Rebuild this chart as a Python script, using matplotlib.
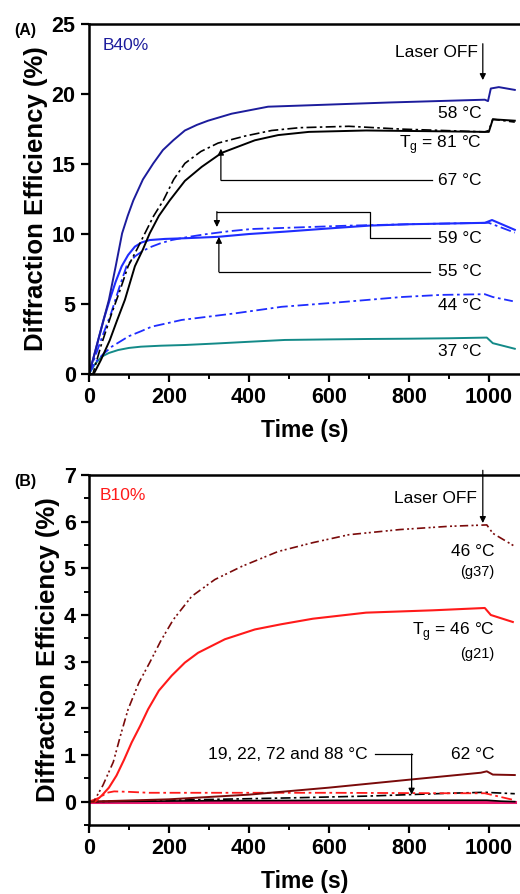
import matplotlib
matplotlib.use('Agg')
import matplotlib.pyplot as plt
from matplotlib.ticker import MultipleLocator

plt.rcParams['font.family'] = ['Liberation Sans', 'DejaVu Sans']
plt.rcParams['mathtext.fontset'] = 'custom'
plt.rcParams['mathtext.rm'] = 'Liberation Sans'

# ---- panel A : B40% ----
t_58 = [0, 10, 23, 37, 50, 67, 83, 97, 111, 135, 161, 185, 211, 240, 270, 298, 357, 448, 550, 650, 750, 870, 990, 998, 1005, 1025, 1065]
v_58 = [0, 1.0, 2.4, 3.9, 5.3, 7.7, 10.05, 11.3, 12.4, 13.9, 15.05, 16.0, 16.7, 17.4, 17.8, 18.1, 18.6, 19.1, 19.2, 19.3, 19.4, 19.5, 19.6, 19.5, 20.4, 20.5, 20.3]

t_81 = [0, 12, 30, 52, 70, 90, 115, 135, 152, 175, 202, 240, 282, 332, 415, 473, 550, 693, 850, 993, 1000, 1010, 1065]
v_81 = [0, 0, 1.0, 2.4, 3.8, 5.3, 7.7, 8.9, 10.05, 11.3, 12.4, 13.8, 14.8, 15.8, 16.7, 17.07, 17.3, 17.4, 17.35, 17.3, 17.3, 18.2, 18.1]

t_67 = [0, 10, 30, 57, 78, 98, 120, 140, 162, 186, 212, 240, 280, 323, 390, 457, 527, 650, 780, 990, 1000, 1010, 1065]
v_67 = [0, 0, 2.0, 4.33, 6.0, 7.7, 8.9, 10.05, 11.3, 12.4, 13.9, 15.05, 15.9, 16.5, 17.0, 17.4, 17.6, 17.7, 17.5, 17.3, 17.4, 18.2, 18.0]

t_59 = [0, 10, 23, 37, 52, 67, 82, 98, 115, 132, 152, 190, 240, 323, 400, 490, 600, 700, 800, 990, 1008, 1065]
v_59 = [0, 1.0, 2.4, 3.9, 5.3, 6.6, 7.7, 8.5, 9.1, 9.4, 9.57, 9.65, 9.7, 9.8, 10.0, 10.17, 10.4, 10.6, 10.7, 10.8, 11.0, 10.3]

t_55 = [0, 15, 35, 55, 75, 94, 115, 135, 157, 180, 207, 250, 290, 350, 407, 500, 650, 800, 990, 1000, 1065]
v_55 = [0, 1.2, 2.8, 4.3, 6.1, 7.7, 8.4, 8.8, 9.1, 9.35, 9.57, 9.8, 9.98, 10.2, 10.36, 10.45, 10.6, 10.7, 10.8, 10.8, 10.1]

t_44 = [0, 14, 35, 57, 80, 100, 130, 157, 195, 232, 300, 365, 420, 482, 550, 617, 700, 783, 880, 990, 1010, 1060]
v_44 = [0, 0.76, 1.4, 1.95, 2.35, 2.7, 3.05, 3.38, 3.62, 3.86, 4.1, 4.33, 4.55, 4.8, 4.95, 5.1, 5.3, 5.5, 5.65, 5.7, 5.5, 5.2]

t_37 = [0, 15, 32, 50, 73, 100, 130, 180, 240, 320, 407, 490, 600, 700, 800, 900, 995, 1010, 1065]
v_37 = [0, 0.7, 1.24, 1.5, 1.71, 1.86, 1.95, 2.02, 2.07, 2.18, 2.31, 2.43, 2.47, 2.5, 2.52, 2.55, 2.6, 2.2, 1.8]

# ---- panel B : B10% ----
t_g37 = [0, 12, 35, 61, 80, 98, 125, 152, 180, 211, 257, 315, 382, 473, 560, 650, 777, 900, 995, 1010, 1065]
v_g37 = [0, 0, 0.35, 0.85, 1.45, 1.98, 2.55, 2.98, 3.45, 3.9, 4.4, 4.76, 5.04, 5.36, 5.55, 5.72, 5.83, 5.9, 5.93, 5.75, 5.47]

t_g21 = [0, 15, 32, 50, 69, 88, 107, 128, 148, 175, 207, 240, 273, 340, 415, 480, 560, 693, 860, 990, 1005, 1060]
v_g21 = [0, 0, 0.13, 0.3, 0.56, 0.9, 1.27, 1.62, 1.98, 2.38, 2.7, 2.98, 3.19, 3.48, 3.69, 3.8, 3.92, 4.05, 4.1, 4.15, 4.0, 3.85]

t_62 = [0, 200, 400, 600, 800, 980, 995, 1010, 1065]
v_62 = [0, 0.05, 0.15, 0.3, 0.47, 0.62, 0.65, 0.58, 0.57]

t_rdd = [0, 25, 45, 63, 100, 150, 300, 600, 900, 990, 1020, 1065]
v_rdd = [0, 0.08, 0.19, 0.22, 0.21, 0.19, 0.19, 0.19, 0.18, 0.18, 0.12, 0.03]

t_kdd = [0, 200, 500, 700, 900, 990, 1065]
v_kdd = [0, 0.03, 0.08, 0.12, 0.18, 0.2, 0.17]

t_k0 = [0, 300, 700, 995, 1030, 1065]
v_k0 = [0, 0.02, 0.03, 0.03, 0.01, 0.0]

t_pink = [0, 1065]
v_pink = [0, 0]

navy = '#1c1c9c'
blue = '#1f2dff'
teal = '#138a88'
maroon = '#7a0a0a'
red = '#ff1a1a'
pink = '#e8186d'

fig = plt.figure(figsize=(5.2, 8.94), dpi=100)
axA = fig.add_axes([0.171, 0.5817, 0.829, 0.3913])
axB = fig.add_axes([0.171, 0.0772, 0.829, 0.3915])

dd = (0, (6, 2, 1.5, 2))
ddd = (0, (5, 2, 1.2, 1.5, 1.2, 2))

axA.plot(t_37, v_37, color=teal, lw=1.4)
axA.plot(t_44, v_44, color=blue, lw=1.3, ls=dd)
axA.plot(t_55, v_55, color=blue, lw=1.3, ls=dd)
axA.plot(t_59, v_59, color=blue, lw=1.5)
axA.plot(t_67, v_67, color='black', lw=1.2, ls=dd)
axA.plot(t_81, v_81, color='black', lw=1.4)
axA.plot(t_58, v_58, color=navy, lw=1.4)

axB.plot(t_pink, v_pink, color=pink, lw=2.2)
axB.plot(t_k0, v_k0, color='black', lw=1.2)
axB.plot(t_kdd, v_kdd, color='black', lw=1.2, ls=dd)
axB.plot(t_rdd, v_rdd, color=red, lw=1.3, ls=dd)
axB.plot(t_62, v_62, color=maroon, lw=1.4)
axB.plot(t_g21, v_g21, color=red, lw=1.5)
axB.plot(t_g37, v_g37, color=maroon, lw=1.2, ls=ddd)

for ax in (axA, axB):
    ax.set_xlim(0, 1078)
    ax.spines['right'].set_visible(False)
    for s in ('left', 'bottom', 'top'):
        ax.spines[s].set_linewidth(1.8)
    ax.xaxis.set_major_locator(MultipleLocator(200))
    ax.xaxis.set_minor_locator(MultipleLocator(100))
    ax.tick_params(which='major', direction='out', length=6, width=1.6,
                   labelsize=15.5, top=False, right=False)
    ax.tick_params(which='minor', direction='out', length=3.5, width=1.4,
                   top=False, right=False)
    for lab in ax.get_xticklabels() + ax.get_yticklabels():
        lab.set_fontweight('bold')
    ax.set_xlabel('Time (s)', fontsize=16.5, fontweight='bold', labelpad=8)
    ax.set_ylabel('Diffraction Efficiency (%)', fontsize=18.5, fontweight='bold', labelpad=3)

axA.set_ylim(0, 25)
axA.yaxis.set_major_locator(MultipleLocator(5))
axB.set_ylim(-0.5, 7)
axB.yaxis.set_major_locator(MultipleLocator(1))
axB.yaxis.set_minor_locator(MultipleLocator(0.5))

fs = 12.5
arr = dict(arrowstyle='-|>', color='black', lw=0.9, mutation_scale=9, shrinkA=0, shrinkB=0)

# labels panel A
fig.text(0.048, 0.966, '(A)', fontsize=11.5, fontweight='bold', ha='center', va='center')
axA.text(35, 23.5, 'B40%', color=navy, fontsize=12.5, va='center')
axA.text(972, 23.0, 'Laser OFF', fontsize=fs, ha='right', va='center')
axA.annotate('', xy=(985, 21.0), xytext=(985, 23.6), arrowprops=arr)
axA.text(982, 18.6, '58 °C', fontsize=fs, ha='right', va='center')
axA.text(982, 16.4, 'T$_\\mathregular{g}$ = 81 °C', fontsize=fs, ha='right', va='center')
axA.text(982, 13.85, '67 °C', fontsize=fs, ha='right', va='center')
axA.plot([857, 330], [13.85, 13.85], color='black', lw=0.9)
axA.annotate('', xy=(330, 16.1), xytext=(330, 13.85), arrowprops=arr)
axA.text(982, 9.7, '59 °C', fontsize=fs, ha='right', va='center')
axA.plot([852, 702, 702, 320], [9.7, 9.7, 11.6, 11.6], color='black', lw=0.9)
axA.annotate('', xy=(320, 10.5), xytext=(320, 11.6), arrowprops=arr)
axA.text(982, 7.3, '55 °C', fontsize=fs, ha='right', va='center')
axA.plot([852, 325], [7.3, 7.3], color='black', lw=0.9)
axA.annotate('', xy=(325, 9.8), xytext=(325, 7.3), arrowprops=arr)
axA.text(982, 4.9, '44 °C', fontsize=fs, ha='right', va='center')
axA.text(982, 1.6, '37 °C', fontsize=fs, ha='right', va='center')

# labels panel B
fig.text(0.048, 0.461, '(B)', fontsize=11.5, fontweight='bold', ha='center', va='center')
axB.text(28, 6.57, 'B10%', color=red, fontsize=12.5, va='center')
axB.text(970, 6.49, 'Laser OFF', fontsize=fs, ha='right', va='center')
axB.annotate('', xy=(985, 5.97), xytext=(985, 7.1), arrowprops=arr)
axB.text(1015, 5.36, '46 °C', fontsize=fs, ha='right', va='center')
axB.text(1015, 4.93, '(g37)', fontsize=10.5, ha='right', va='center')
axB.text(1015, 3.65, 'T$_\\mathregular{g}$ = 46 °C', fontsize=fs, ha='right', va='center')
axB.text(1015, 3.16, '(g21)', fontsize=10.5, ha='right', va='center')
axB.text(1015, 1.02, '62 °C', fontsize=fs, ha='right', va='center')
axB.text(697, 1.02, '19, 22, 72 and 88 °C', fontsize=fs, ha='right', va='center')
axB.plot([715, 807], [1.02, 1.02], color='black', lw=0.9)
axB.annotate('', xy=(807, 0.15), xytext=(807, 1.02), arrowprops=arr)

fig.savefig('out.png', dpi=100)
